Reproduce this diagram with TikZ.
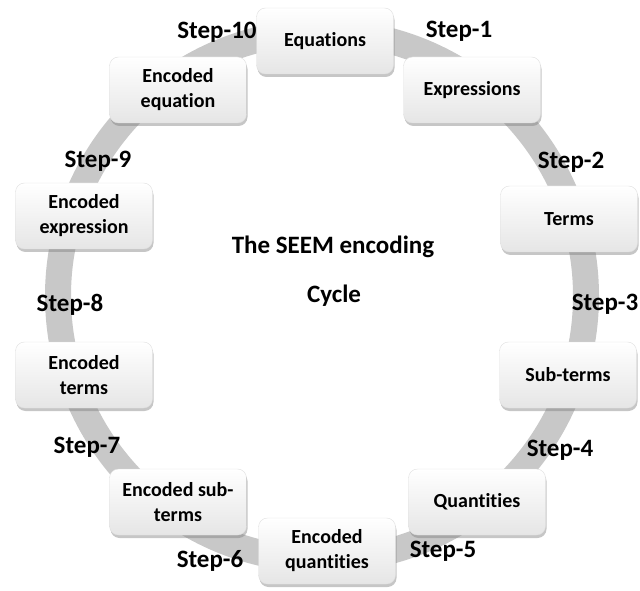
\documentclass[tikz,border=0pt]{standalone}
\usepackage{fontspec}
\setmainfont[Ligatures=NoCommon]{Carlito}
\usepackage{tikz}
\usetikzlibrary{shadows}
\definecolor{ringgray}{HTML}{C8C8C8}

\begin{document}
\begin{tikzpicture} [x=1pt, y=1pt,
    box/.style={draw=gray!25, rounded corners=9pt, minimum width=137pt, minimum height=66pt,
        top color=white, middle color=white, bottom color=gray!20, align=center,
        font=\bfseries\fontsize{20}{25}\selectfont,
        drop shadow={opacity=0.45, shadow xshift=1pt, shadow yshift=-3pt}},
    steplabel/.style={font=\bfseries\fontsize{25}{28}\selectfont},
    ]
    \useasboundingbox (0,0) rectangle (640,590);

    \coordinate (ctr) at (322,294);
    \draw[ringgray, line width=26pt] (ctr) circle (264);

    \node[box] (eqn) at (325,549) {Equations};
    \node[box] (expr) at (472,500) {Expressions};
    \node[box] (terms) at (569,371) {Terms};
    \node[box] (subt) at (568,215) {Sub-terms};
    \node[box] (quant) at (477,88) {Quantities};
    \node[box] (equant) at (327,39) {Encoded\\quantities};
    \node[box] (esubt) at (178,88) {Encoded sub-\\terms};
    \node[box] (eterms) at (84,215) {Encoded\\terms};
    \node[box] (eexpr) at (84,374) {Encoded\\expression};
    \node[box] (eeqn) at (178,500) {Encoded\\equation};

    \node[steplabel] (s1) at (459,559) {Step-1};
    \node[steplabel] (s2) at (571,428) {Step-2};
    \node[steplabel] (s3) at (605,286) {Step-3};
    \node[steplabel] (s4) at (560,140) {Step-4};
    \node[steplabel] (s5) at (443,39) {Step-5};
    \node[steplabel] (s6) at (210,29) {Step-6};
    \node[steplabel] (s7) at (87,143) {Step-7};
    \node[steplabel] (s8) at (70,285) {Step-8};
    \node[steplabel] (s9) at (98,429) {Step-9};
    \node[steplabel] (s10) at (217,558) {Step-10};

    \node[steplabel] (title) at (333,343) {The SEEM encoding};
    \node[steplabel] (cycle) at (334,294) {Cycle};
\end{tikzpicture}
\end{document}
